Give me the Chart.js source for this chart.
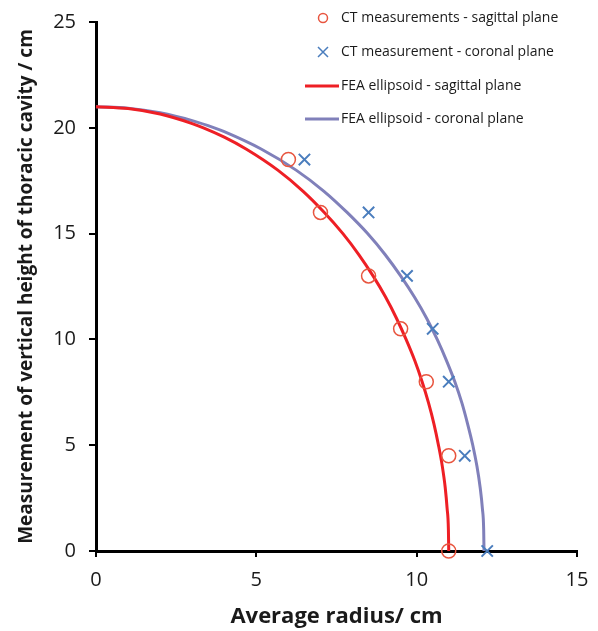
<!DOCTYPE html>
<html>
<head>
<meta charset="utf-8">
<script src="https://cdn.jsdelivr.net/npm/chart.js@4.4.1/dist/chart.umd.min.js"></script>
<style>
  body { margin: 0; background: #fff; }
  #wrap { width: 598px; height: 631px; }
</style>
</head>
<body>
<div id="wrap"><canvas id="chart" width="598" height="631"></canvas></div>
<script>
const ctSagX = [6, 7, 8.5, 9.5, 10.3, 11, 11];
const ctSagY = [18.5, 16, 13, 10.5, 8, 4.5, 0];
const ctCorX = [6.5, 8.5, 9.7, 10.5, 11, 11.5, 12.2];
const ctCorY = [18.5, 16, 13, 10.5, 8, 4.5, 0];

// FEA ellipsoid outlines, points picked along the drawn curves
const feaSagX = [0, 1, 2, 3, 3.35, 4, 4.68, 5.67, 6.46, 7.12, 7.70, 8.20, 8.64, 9.03, 9.37, 9.67, 9.94, 10.17, 10.37, 10.54, 10.68, 10.80, 10.89, 10.95, 10.99, 11.0];
const feaSagY = [21, 20.91, 20.65, 20.20, 20, 19.56, 19, 18, 17, 16, 15, 14, 13, 12, 11, 10, 9, 8, 7, 6, 5, 4, 3, 2, 1, 0];
const feaCorX = [0, 1, 2, 3, 3.69, 4, 5.15, 6.24, 7.11, 7.83, 8.47, 9.02, 9.50, 9.93, 10.31, 10.64, 10.93, 11.19, 11.41, 11.59, 11.75, 11.88, 11.98, 12.05, 12.09, 12.1];
const feaCorY = [21, 20.93, 20.71, 20.34, 20, 19.82, 19, 18, 17, 16, 15, 14, 13, 12, 11, 10, 9, 8, 7, 6, 5, 4, 3, 2, 1, 0];

const xTicks = [0, 5, 10, 15];
const yTicks = [0, 5, 10, 15, 20, 25];

const seriesNames = [
  'CT measurements - sagittal plane',
  'CT measurement - coronal plane',
  'FEA ellipsoid - sagittal plane',
  'FEA ellipsoid - coronal plane'
];

function toPoints(xs, ys) {
  return xs.map((x, i) => ({ x: x, y: ys[i] }));
}

const circleColor = '#e8553f';
const crossColor = '#4a7dbd';
const redLine = '#ee1f25';
const blueLine = '#8080ba';

// legend drawn inside the plot, top right
const insideLegend = {
  id: 'insideLegend',
  afterDraw(chart) {
    const ctx = chart.ctx;
    const rows = [18, 52, 86, 119];
    ctx.save();
    ctx.font = '14px "Open Sans"';
    ctx.fillStyle = '#1a1a1a';
    ctx.textBaseline = 'middle';
    seriesNames.forEach((name, i) => {
      const y = rows[i];
      ctx.fillText(name, 341, y);
      if (i === 0) {
        ctx.strokeStyle = circleColor;
        ctx.lineWidth = 1.5;
        ctx.beginPath();
        ctx.arc(323, y, 4.5, 0, Math.PI * 2);
        ctx.stroke();
      } else if (i === 1) {
        ctx.strokeStyle = crossColor;
        ctx.lineWidth = 1.5;
        ctx.beginPath();
        ctx.moveTo(318, y - 5); ctx.lineTo(328, y + 5);
        ctx.moveTo(328, y - 5); ctx.lineTo(318, y + 5);
        ctx.stroke();
      } else {
        ctx.strokeStyle = i === 2 ? redLine : blueLine;
        ctx.lineWidth = 3;
        ctx.beginPath();
        ctx.moveTo(305, y); ctx.lineTo(339, y);
        ctx.stroke();
      }
    });
    ctx.restore();
  }
};

const ctx = document.getElementById('chart').getContext('2d');
const chart = new Chart(ctx, {
  type: 'scatter',
  data: {
    datasets: [{
      label: seriesNames[0],
      data: toPoints(ctSagX, ctSagY),
      pointStyle: 'circle',
      pointRadius: 7,
      pointHoverRadius: 7,
      borderColor: circleColor,
      backgroundColor: 'rgba(0,0,0,0)',
      borderWidth: 1.5,
      clip: false
    }, {
      label: seriesNames[1],
      data: toPoints(ctCorX, ctCorY),
      pointStyle: 'crossRot',
      pointRadius: 8,
      pointHoverRadius: 8,
      borderColor: crossColor,
      backgroundColor: crossColor,
      borderWidth: 2,
      clip: false
    }, {
      label: seriesNames[2],
      data: toPoints(feaSagX, feaSagY),
      showLine: true,
      pointRadius: 0,
      borderColor: redLine,
      borderWidth: 3,
      cubicInterpolationMode: 'monotone',
      clip: false
    }, {
      label: seriesNames[3],
      data: toPoints(feaCorX, feaCorY),
      showLine: true,
      pointRadius: 0,
      borderColor: blueLine,
      borderWidth: 3,
      cubicInterpolationMode: 'monotone',
      clip: false
    }]
  },
  options: {
    responsive: false,
    animation: false,
    layout: { padding: { left: 0, top: 22, right: 21, bottom: 0 } },
    scales: {
      x: {
        type: 'linear',
        min: 0,
        max: 15,
        afterBuildTicks: (scale) => { scale.ticks = xTicks.map(v => ({ value: v })); },
        afterFit: (scale) => {
          scale.height = 80;
          scale.paddingLeft = 0;
          scale.paddingRight = 0;
        },
        ticks: {
          color: '#1a1a1a',
          font: { family: 'Open Sans', size: 20 },
          padding: 11
        },
        grid: {
          drawOnChartArea: false,
          drawTicks: true,
          tickLength: 6,
          color: '#000',
          lineWidth: 2
        },
        border: { color: '#000', width: 3 },
        title: {
          display: true,
          text: 'Average radius/ cm',
          color: '#1a1a1a',
          font: { family: 'Open Sans', size: 22, weight: 'bold' },
          padding: { top: 0, bottom: 1 }
        }
      },
      y: {
        type: 'linear',
        min: 0,
        max: 25,
        afterBuildTicks: (scale) => { scale.ticks = yTicks.map(v => ({ value: v })); },
        afterFit: (scale) => {
          scale.width = 96;
          scale.paddingTop = 0;
          scale.paddingBottom = 0;
        },
        ticks: {
          color: '#1a1a1a',
          font: { family: 'Open Sans', size: 20 },
          padding: 13
        },
        grid: {
          drawOnChartArea: false,
          drawTicks: true,
          tickLength: 7,
          color: '#000',
          lineWidth: 2
        },
        border: { color: '#000', width: 3 },
        title: {
          display: true,
          text: 'Measurement of vertical height of thoracic cavity / cm',
          color: '#1a1a1a',
          font: { family: 'Open Sans', size: 19, weight: 'bold' },
          padding: { top: 15, bottom: 0 }
        }
      }
    },
    plugins: {
      legend: { display: false },
      tooltip: { enabled: false }
    }
  },
  plugins: [insideLegend]
});
</script>
</body>
</html>
